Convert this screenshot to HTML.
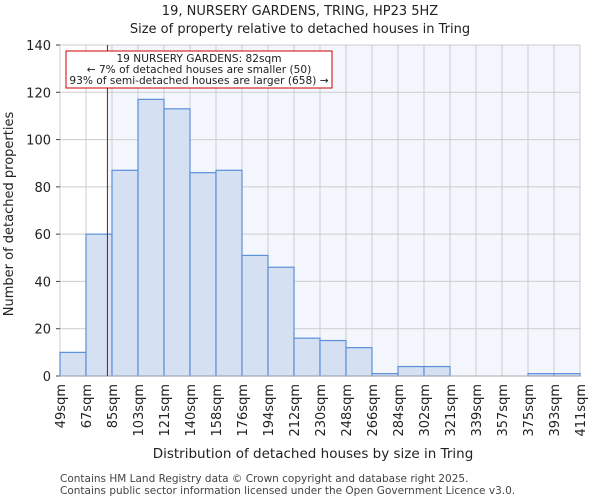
<!DOCTYPE html>
<html><head><meta charset="utf-8"><style>
body{margin:0;background:#fff;}
svg{display:block;font-family:"DejaVu Sans","Liberation Sans",sans-serif;}
</style></head><body>
<svg id="chart" width="600" height="500" viewBox="0 0 600 500">
<text x="300" y="15" text-anchor="middle" font-size="13" fill="#222">19, NURSERY GARDENS, TRING, HP23 5HZ</text>
<text x="300" y="33" text-anchor="middle" font-size="13" fill="#222">Size of property relative to detached houses in Tring</text>
<g id="plot"></g>
<text x="313" y="458" text-anchor="middle" font-size="13.5" fill="#222">Distribution of detached houses by size in Tring</text>
<text transform="translate(13,214) rotate(-90)" text-anchor="middle" font-size="13" fill="#222">Number of detached properties</text>
<text x="60" y="482" font-size="10.5" fill="#444">Contains HM Land Registry data © Crown copyright and database right 2025.</text>
<text x="60" y="494" font-size="10.5" fill="#444">Contains public sector information licensed under the Open Government Licence v3.0.</text>
</svg>
<script>
const binLabels=["49sqm","67sqm","85sqm","103sqm","121sqm","140sqm","158sqm","176sqm","194sqm","212sqm","230sqm","248sqm","266sqm","284sqm","302sqm","321sqm","339sqm","357sqm","375sqm","393sqm","411sqm"];
const counts=[10,60,87,117,113,86,87,51,46,16,15,12,1,4,4,0,0,0,1,1];
const yTicks=[0,20,40,60,80,100,120,140];
const propertySize=82;
const binStart=49, binEnd=411;

const NS="http://www.w3.org/2000/svg";
const g=document.getElementById('plot');
const X0=60,X1=580,Y0=376,Y1=45,YMAX=140;
const nb=counts.length, bw=(X1-X0)/nb;
const xb=i=>X0+i*bw;
const xv=v=>X0+(v-binStart)/(binEnd-binStart)*(X1-X0);
const y=v=>Y0-(v/YMAX)*(Y0-Y1);
function mk(t,a){const e=document.createElementNS(NS,t);for(const k in a)e.setAttribute(k,a[k]);g.appendChild(e);return e;}
const mx=xv(propertySize);
let e=mk('rect',{x:mx,y:Y1,width:X1-mx,height:Y0-Y1,fill:'#f3f6fc'});


for(let i=0;i<=nb;i++){e=mk('line',{x1:xb(i),x2:xb(i),y1:Y1,y2:Y0,stroke:'#cccccc','stroke-width':1});

}
yTicks.forEach(t=>{e=mk('line',{x1:X0,x2:X1,y1:y(t),y2:y(t),stroke:'#cccccc','stroke-width':1});


e=mk('text',{x:X0-9,y:y(t)+5,'text-anchor':'end','font-size':13,fill:'#222'});e.textContent=t;


e=mk('line',{x1:X0-4,x2:X0,y1:y(t),y2:y(t),stroke:'#444'});

});
counts.forEach((c,i)=>{e=mk('rect',{x:xb(i),y:y(c),width:bw,height:Y0-y(c),fill:'#d6e0f3',stroke:'#5b8fd9','stroke-width':1.2});

});
binLabels.forEach((l,i)=>{e=mk('text',{transform:`translate(${xb(i)+5},${Y0+8}) rotate(-90)`,'text-anchor':'end','font-size':13,fill:'#222'});e.textContent=l;

});
e=mk('line',{x1:X0,x2:X1,y1:Y0,y2:Y0,stroke:'#aaa'});


e=mk('line',{x1:mx,x2:mx,y1:Y1,y2:Y0,stroke:'#b00000','stroke-width':1});


e=mk('rect',{x:66,y:51,width:266,height:37,fill:'#fff',stroke:'#cc0000','stroke-width':1});


["19 NURSERY GARDENS: 82sqm","← 7% of detached houses are smaller (50)","93% of semi-detached houses are larger (658) →"].forEach((s,i)=>{
e=mk('text',{x:199,y:62+i*11,'text-anchor':'middle','font-size':10.6,fill:'#222'});e.textContent=s;

});
</script>
</body></html>
